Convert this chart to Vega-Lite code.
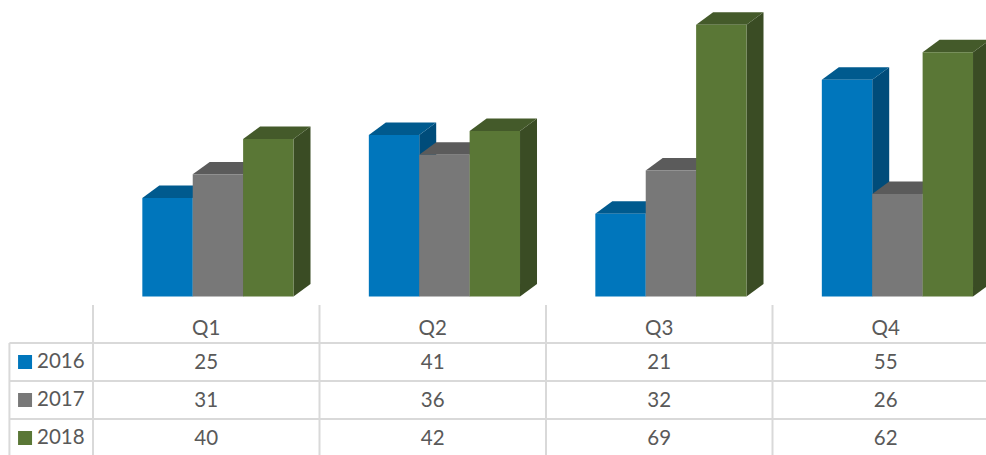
{
"$schema":"https://vega.github.io/schema/vega-lite/v6.json",
"width":986,"height":455,"padding":0,"autosize":{"type":"none"},
"background":"white","view":{"stroke":null},
"datasets":{"bars":[
{"quarter":"Q1","year":"2016","value":25},{"quarter":"Q1","year":"2017","value":31},{"quarter":"Q1","year":"2018","value":40},
{"quarter":"Q2","year":"2016","value":41},{"quarter":"Q2","year":"2017","value":36},{"quarter":"Q2","year":"2018","value":42},
{"quarter":"Q3","year":"2016","value":21},{"quarter":"Q3","year":"2017","value":32},{"quarter":"Q3","year":"2018","value":69},
{"quarter":"Q4","year":"2016","value":55},{"quarter":"Q4","year":"2017","value":26},{"quarter":"Q4","year":"2018","value":62}
],
"years":[{"year":"2016"},{"year":"2017"},{"year":"2018"}],
"quarters":[{"quarter":"Q1"},{"quarter":"Q2"},{"quarter":"Q3"},{"quarter":"Q4"}],
"rows":[{"row":1},{"row":2},{"row":3}],
"cols":[{"col":0},{"col":1},{"col":2},{"col":3}]
},
"resolve":{"scale":{"x":"independent","y":"independent","color":"independent"},"axis":{"x":"independent","y":"independent"}},
"layer":[
{"data":{"name":"bars"},
 "transform":[
 {"calculate":"indexof(['Q1','Q2','Q3','Q4'],datum.quarter)","as":"qi"},
 {"calculate":"indexof(['2016','2017','2018'],datum.year)","as":"si"},
 {"calculate":"datum.qi+0.2178+datum.si*0.2225","as":"left"},
 {"calculate":"datum.left+0.2225","as":"right"},
 {"calculate":"[0,1]","as":"t"},{"flatten":["t"]},
 {"calculate":"datum.right+datum.t*0.075","as":"sx"},
 {"calculate":"datum.value+datum.t*3.17","as":"sy"},
 {"calculate":"datum.t*3.17","as":"sy2"},
 {"calculate":"datum.quarter+datum.year","as":"key"}],
 "mark":{"type":"area","interpolate":"linear"},
 "encoding":{
  "x":{"field":"sx","type":"quantitative","axis":null,"scale":{"domain":[0,4],"range":[93,999],"nice":false,"zero":false}},
  "y":{"field":"sy","type":"quantitative","axis":null,"stack":null,"scale":{"domain":[0,75.13],"range":[296.5,0.5],"nice":false}},
  "y2":{"field":"sy2"},
  "detail":{"field":"key"},
  "color":{"field":"year","type":"nominal","legend":null,"scale":{"domain":["2016","2017","2018"],"range":["#004C7A","#4A4A4A","#3A4C24"]}}
 }},
{"data":{"name":"bars"},
 "transform":[
 {"calculate":"indexof(['Q1','Q2','Q3','Q4'],datum.quarter)","as":"qi"},
 {"calculate":"indexof(['2016','2017','2018'],datum.year)","as":"si"},
 {"calculate":"datum.qi+0.2178+datum.si*0.2225","as":"left"},
 {"calculate":"datum.left+0.2225","as":"right"},
 {"calculate":"[0,1]","as":"t"},{"flatten":["t"]},
 {"calculate":"datum.left+datum.t*0.075","as":"tx"},
 {"calculate":"datum.right+datum.t*0.075","as":"tx2"},
 {"calculate":"datum.value+datum.t*3.17","as":"ty"},
 {"calculate":"datum.quarter+datum.year","as":"key"}],
 "mark":{"type":"area","orient":"horizontal","interpolate":"linear"},
 "encoding":{
  "x":{"field":"tx","type":"quantitative","axis":null,"stack":null,"scale":{"domain":[0,4],"range":[93,999],"nice":false,"zero":false}},
  "x2":{"field":"tx2"},
  "y":{"field":"ty","type":"quantitative","axis":null,"scale":{"domain":[0,75.13],"range":[296.5,0.5],"nice":false}},
  "detail":{"field":"key"},
  "color":{"field":"year","type":"nominal","legend":null,"scale":{"domain":["2016","2017","2018"],"range":["#005A8E","#5B5B5B","#445A2A"]}}
 }},
{"data":{"name":"bars"},
 "transform":[
 {"calculate":"indexof(['Q1','Q2','Q3','Q4'],datum.quarter)","as":"qi"},
 {"calculate":"indexof(['2016','2017','2018'],datum.year)","as":"si"},
 {"calculate":"datum.qi+0.2178+datum.si*0.2225","as":"left"},
 {"calculate":"datum.left+0.2225","as":"right"}],
 "mark":{"type":"rect"},
 "encoding":{
  "x":{"field":"left","type":"quantitative","axis":null,"scale":{"domain":[0,4],"range":[93,999],"nice":false,"zero":false}},
  "x2":{"field":"right"},
  "y":{"field":"value","type":"quantitative","axis":null,"scale":{"domain":[0,75.13],"range":[296.5,0.5],"nice":false}},
  "y2":{"datum":0},
  "color":{"field":"year","type":"nominal","legend":null,"scale":{"domain":["2016","2017","2018"],"range":["#0076BC","#787878","#5A7736"]}}
 }},
{"data":{"name":"rows"},
 "mark":{"type":"rule","color":"#D9D9D9","strokeWidth":2,"clip":true},
 "encoding":{
  "y":{"field":"row","type":"quantitative","axis":null,"scale":{"domain":[0,4],"range":[305,457],"nice":false}},
  "x":{"datum":-0.369,"type":"quantitative","axis":null,"scale":{"domain":[0,4],"range":[93,999],"nice":false,"zero":false}},
  "x2":{"datum":4}
 }},
{"data":{"name":"cols"},
 "mark":{"type":"rule","color":"#D9D9D9","strokeWidth":2,"clip":true},
 "encoding":{
  "x":{"field":"col","type":"quantitative","axis":null,"scale":{"domain":[0,4],"range":[93,999],"nice":false,"zero":false}},
  "y":{"datum":0,"type":"quantitative","axis":null,"scale":{"domain":[0,4],"range":[305,457],"nice":false}},
  "y2":{"datum":4}
 }},
{"data":{"values":[{"edge":"left"}]},
 "mark":{"type":"rule","color":"#D9D9D9","strokeWidth":2,"clip":true},
 "encoding":{
  "x":{"datum":-0.369,"type":"quantitative","axis":null,"scale":{"domain":[0,4],"range":[93,999],"nice":false,"zero":false}},
  "y":{"datum":1,"type":"quantitative","axis":null,"scale":{"domain":[0,4],"range":[305,457],"nice":false}},
  "y2":{"datum":4}
 }},
{"data":{"name":"quarters"},
 "mark":{"type":"text","font":"Lato","fontSize":20.5,"color":"#595959","baseline":"middle","dy":5},
 "encoding":{
  "x":{"field":"quarter","type":"nominal","axis":null,"scale":{"type":"band","domain":["Q1","Q2","Q3","Q4"],"range":[93,999]}},
  "y":{"datum":"header","type":"nominal","axis":null,"scale":{"type":"band","domain":["header","2016","2017","2018"],"range":[305,457]}},
  "text":{"field":"quarter"}
 }},
{"data":{"name":"bars"},
 "mark":{"type":"text","font":"Lato","fontSize":20.5,"color":"#595959","baseline":"middle","dy":1},
 "encoding":{
  "x":{"field":"quarter","type":"nominal","axis":null,"scale":{"type":"band","domain":["Q1","Q2","Q3","Q4"],"range":[93,999]}},
  "y":{"field":"year","type":"nominal","axis":null,"scale":{"type":"band","domain":["header","2016","2017","2018"],"range":[305,457]}},
  "text":{"field":"value","type":"quantitative"}
 }},
{"data":{"name":"years"},
 "mark":{"type":"text","font":"Lato","fontSize":20.5,"color":"#595959","baseline":"middle","align":"left","dy":0},
 "encoding":{
  "x":{"datum":-0.247,"type":"quantitative","axis":null,"scale":{"domain":[0,4],"range":[93,999],"nice":false,"zero":false}},
  "y":{"field":"year","type":"nominal","axis":null,"scale":{"type":"band","domain":["header","2016","2017","2018"],"range":[305,457]}},
  "text":{"field":"year"}
 }},
{"data":{"name":"years"},
 "mark":{"type":"point","shape":"square","filled":true,"size":196,"opacity":1},
 "encoding":{
  "x":{"datum":-0.30,"type":"quantitative","axis":null,"scale":{"domain":[0,4],"range":[93,999],"nice":false,"zero":false}},
  "y":{"field":"year","type":"nominal","axis":null,"scale":{"type":"band","domain":["header","2016","2017","2018"],"range":[305,457]}},
  "color":{"field":"year","type":"nominal","legend":null,"scale":{"domain":["2016","2017","2018"],"range":["#0076BC","#787878","#5A7736"]}}
 }}
]
}
